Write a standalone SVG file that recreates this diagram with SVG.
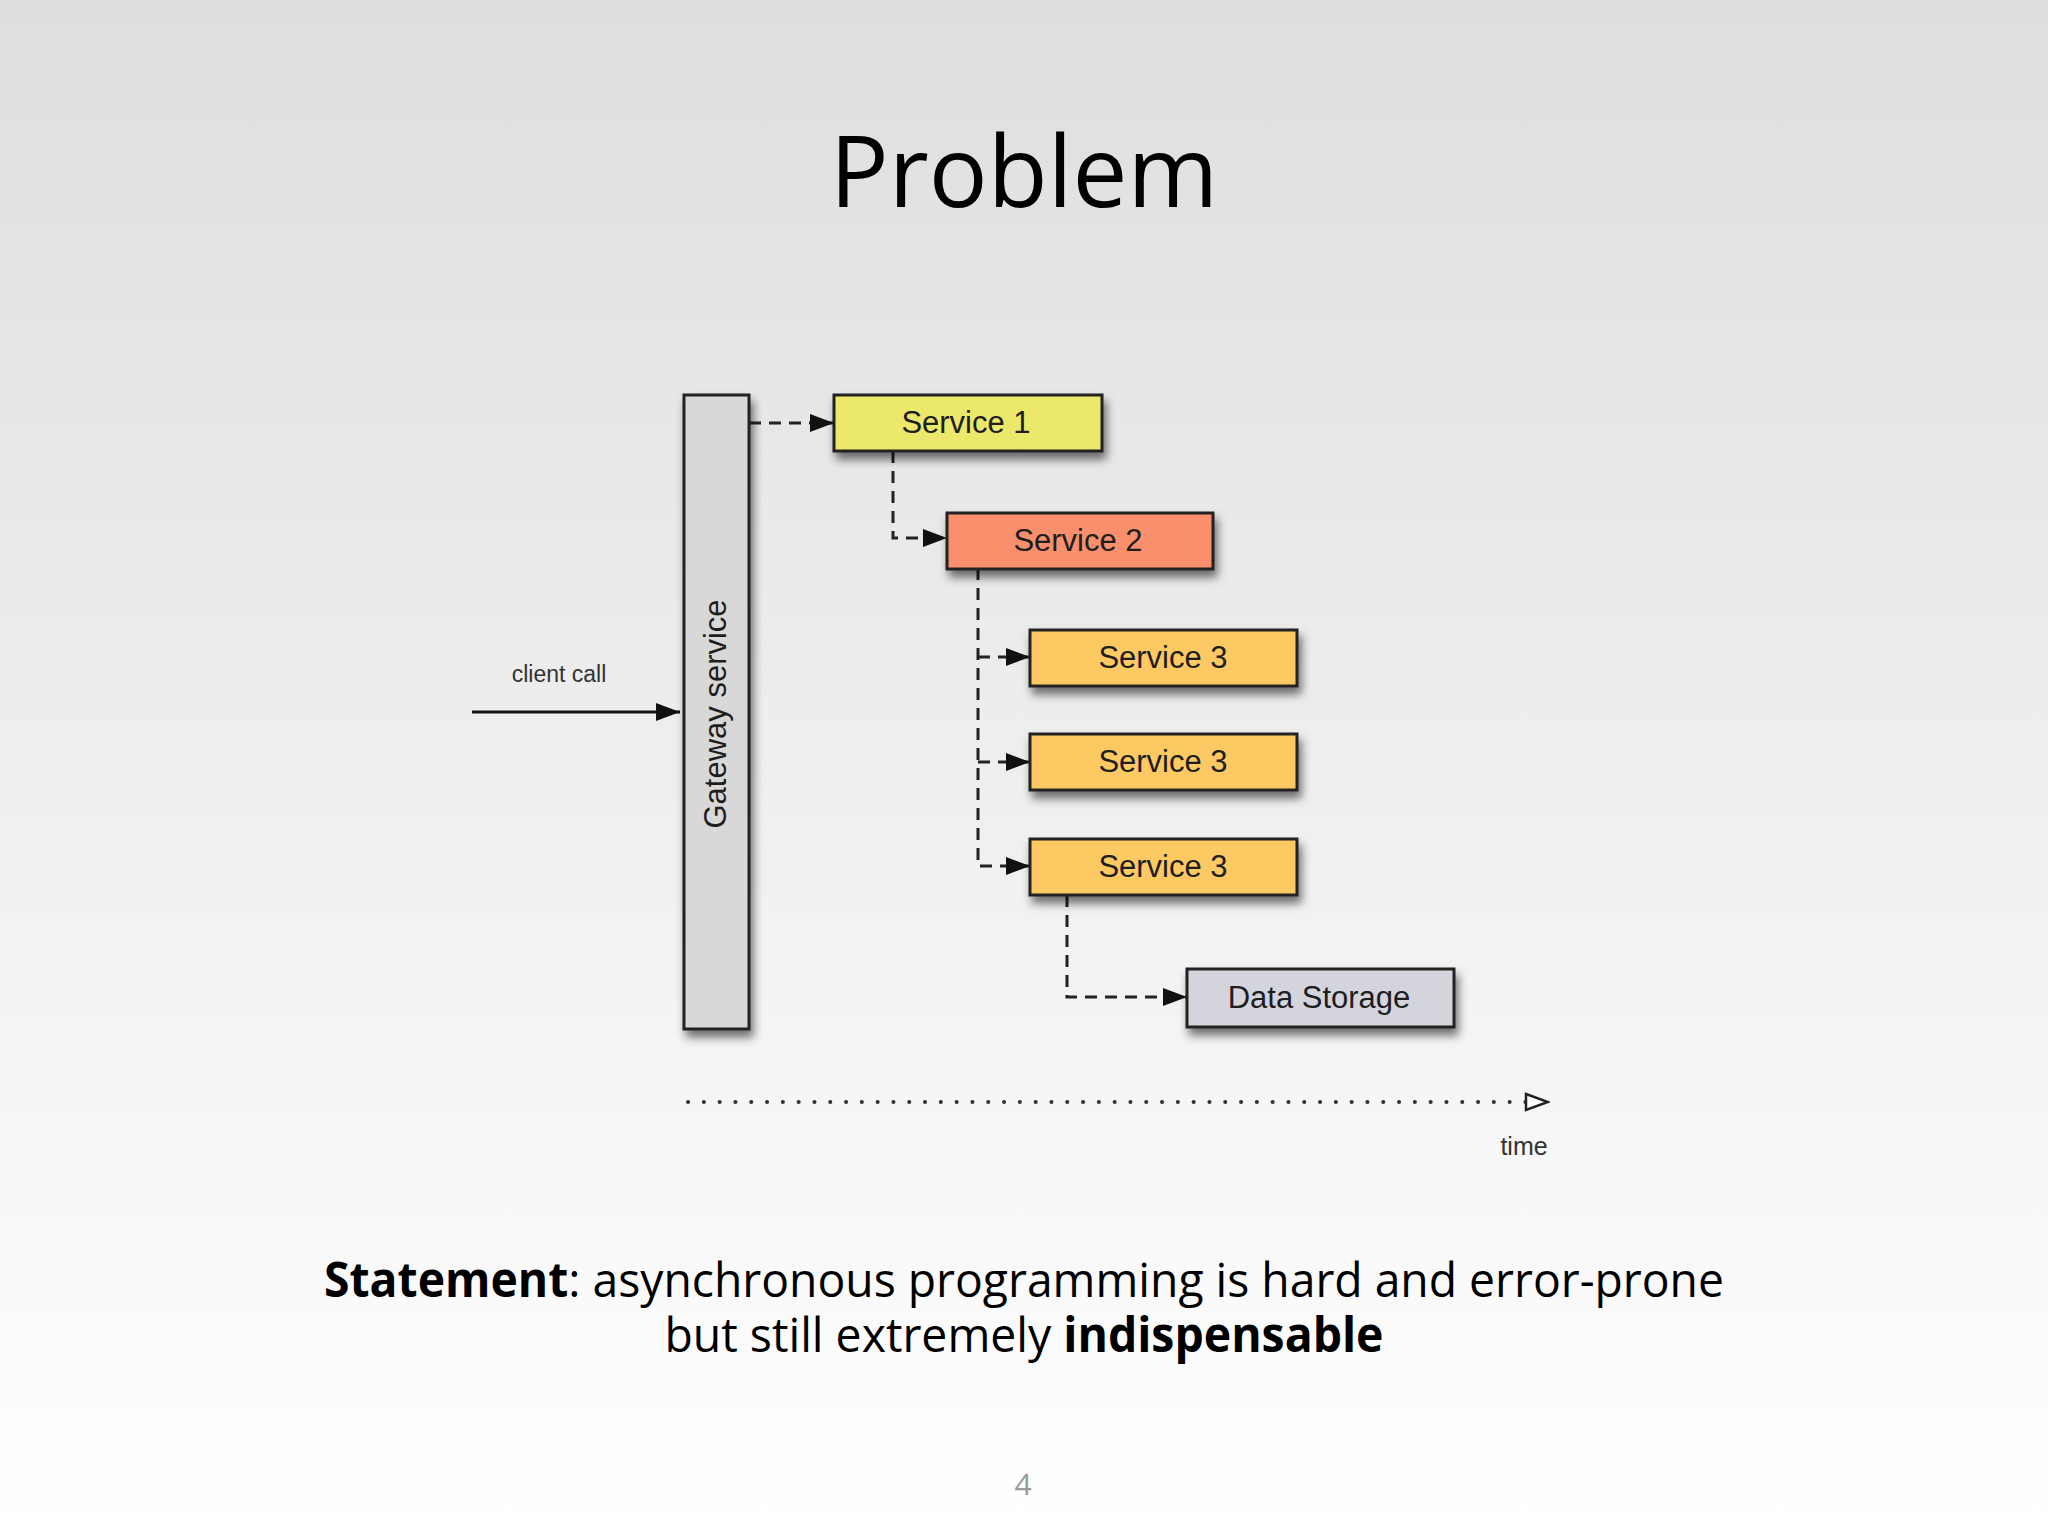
<svg xmlns="http://www.w3.org/2000/svg" width="2048" height="1536" viewBox="0 0 2048 1536">
<defs>
<linearGradient id="bg" x1="0" y1="0" x2="0" y2="1">
<stop offset="0" stop-color="#dedede"/>
<stop offset="1" stop-color="#ffffff"/>
</linearGradient>
<filter id="sh" x="-20%" y="-20%" width="140%" height="160%">
<feDropShadow dx="3" dy="7" stdDeviation="5" flood-color="#000" flood-opacity="0.55"/>
</filter>
<marker id="ah" markerUnits="userSpaceOnUse" markerWidth="24" markerHeight="18" refX="24" refY="9" orient="auto">
<path d="M0,0 L24,9 L0,18 z" fill="#111"/>
</marker>
<marker id="ao" markerUnits="userSpaceOnUse" markerWidth="26" markerHeight="20" refX="24" refY="10" orient="auto">
<path d="M2,2 L24,10 L2,18 z" fill="#fff" stroke="#222" stroke-width="2.5"/>
</marker>
<style>
.box{stroke:#222;stroke-width:3;filter:url(#sh)}
.lbl{font-family:"Liberation Sans",Arial,sans-serif;font-size:31px;fill:#1e1e1e;text-anchor:middle}
.small{font-family:"Liberation Sans",Arial,sans-serif;fill:#333;text-anchor:middle}
.dash{fill:none;stroke:#222;stroke-width:3;stroke-dasharray:12 8}
.slide{font-family:"Open Sans","Noto Sans",sans-serif;fill:#000;text-anchor:middle}
</style>
</defs>
<rect width="2048" height="1536" fill="url(#bg)"/>

<text class="slide" x="1024" y="207" font-size="98">Problem</text>

<g id="connectors">
<line x1="472" y1="712" x2="680" y2="712" stroke="#111" stroke-width="3" marker-end="url(#ah)"/>
<path class="dash" d="M749,423 H834" marker-end="url(#ah)"/>
<path class="dash" d="M893,451 V538 H947" marker-end="url(#ah)"/>
<path class="dash" d="M978,568 V866 H1030" marker-end="url(#ah)"/>
<path class="dash" d="M978,657 H1030" marker-end="url(#ah)"/>
<path class="dash" d="M978,762 H1030" marker-end="url(#ah)"/>
<path class="dash" d="M1067,895 V997 H1187" marker-end="url(#ah)"/>
<path d="M688,1102 H1548" fill="none" stroke="#333" stroke-width="4" stroke-linecap="round" stroke-dasharray="0.1 15.7" marker-end="url(#ao)"/>
</g>

<g id="client-call-label">
<text class="small" x="559" y="682" font-size="23">client call</text>
</g>

<g id="gateway">
<rect class="box" x="684" y="395" width="65" height="634" fill="#d8d8d8"/>
<text class="lbl" transform="translate(726,714) rotate(-90)" x="0" y="0">Gateway service</text>
</g>

<g id="service1">
<rect class="box" x="834" y="395" width="268" height="56" fill="#ebe86c"/>
<text class="lbl" x="966" y="433">Service 1</text>
</g>

<g id="service2">
<rect class="box" x="947" y="513" width="266" height="56" fill="#f98f6d"/>
<text class="lbl" x="1078" y="551">Service 2</text>
</g>

<g id="service3a">
<rect class="box" x="1030" y="630" width="267" height="56" fill="#fdc963"/>
<text class="lbl" x="1163" y="668">Service 3</text>
</g>

<g id="service3b">
<rect class="box" x="1030" y="734" width="267" height="56" fill="#fdc963"/>
<text class="lbl" x="1163" y="772">Service 3</text>
</g>

<g id="service3c">
<rect class="box" x="1030" y="839" width="267" height="56" fill="#fdc963"/>
<text class="lbl" x="1163" y="877">Service 3</text>
</g>

<g id="data-storage">
<rect class="box" x="1187" y="969" width="267" height="58" fill="#d4d4dd"/>
<text class="lbl" x="1319" y="1008">Data Storage</text>
</g>

<g id="time-label">
<text class="small" x="1524" y="1155" font-size="25">time</text>
</g>

<text class="slide" x="1024" y="1297" font-size="48" textLength="1400" lengthAdjust="spacingAndGlyphs"><tspan font-weight="bold">Statement</tspan>: asynchronous programming is hard and error-prone</text>
<text class="slide" x="1024" y="1352" font-size="48" textLength="719" lengthAdjust="spacingAndGlyphs">but still extremely <tspan font-weight="bold">indispensable</tspan></text>

<text x="1023" y="1495" font-family="Open Sans, sans-serif" font-size="30" fill="#999" text-anchor="middle">4</text>
</svg>
